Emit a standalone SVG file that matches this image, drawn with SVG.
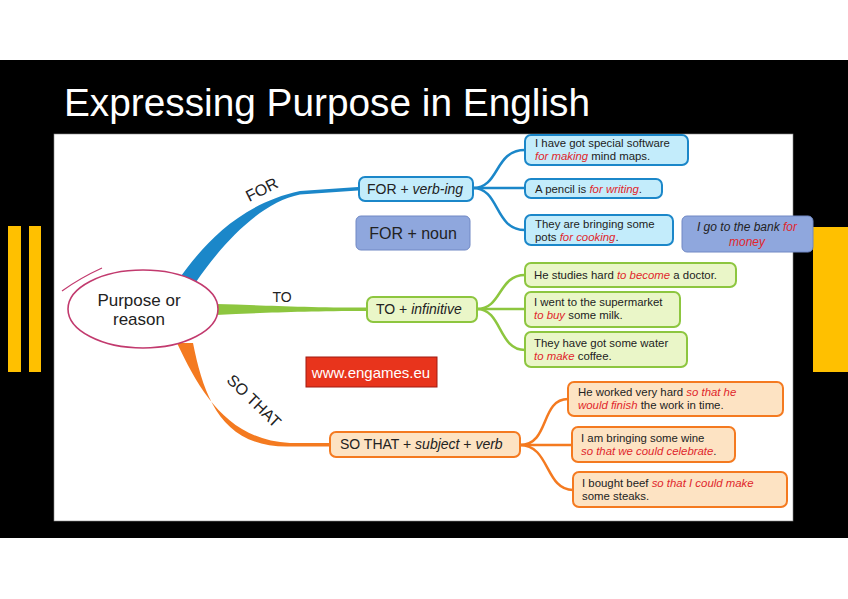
<svg xmlns="http://www.w3.org/2000/svg" width="848" height="599" viewBox="0 0 848 599">
<style>
text{font-family:"Liberation Sans",Arial,sans-serif;fill:#222}
.s{font-size:11.4px}
.h{font-size:14px}
.r{fill:#e0262b;font-style:italic}
.i{font-style:italic}
.bb{fill:#c3ecfb;stroke:#1b87c9;stroke-width:2}
.gb{fill:#eaf6c8;stroke:#8dc63f;stroke-width:2}
.ob{fill:#fde3c3;stroke:#f47a20;stroke-width:2}
.nb{fill:#8fa7dd;stroke:#7088c4;stroke-width:1}
.c{fill:none;stroke-width:2.5}
</style>
<rect width="848" height="599" fill="#fff"/>
<rect x="0" y="60" width="848" height="478" fill="#000"/>
<rect x="8" y="226" width="13" height="146" fill="#ffc000"/>
<rect x="29" y="226" width="12" height="146" fill="#ffc000"/>
<rect x="813" y="227" width="35" height="145" fill="#ffc000"/>
<text x="64" y="116" textLength="526" lengthAdjust="spacingAndGlyphs" style="font-size:38px;fill:#fff">Expressing Purpose in English</text>
<rect x="54" y="134" width="739" height="387" fill="#fff" stroke="#888" stroke-width="0.6"/>

<g id="connectors">
<path d="M178,280 C200,250 235,205 300,191 L358,187 L358,190.5 L300,194.5 C262,202 225,240 196,282 Z" fill="#1b87c9"/>
<path d="M216,304 C260,305 300,307.5 367,307.5 L367,311 C300,311 260,313 216,315 Z" fill="#8dc63f"/>
<path d="M177,343 C200,392 228,440 290,443 L330,443 L330,446.5 L290,446.5 C222,448 204,398 193,343 Z" fill="#f47a20"/>
<g class="c" stroke="#1b87c9">
<path d="M473,188 C500,188 494,150 525,150"/>
<path d="M473,188 L525,188"/>
<path d="M473,188 C500,188 494,230 525,230"/>
</g>
<g class="c" stroke="#8dc63f">
<path d="M477,309 C502,309 498,275 525,275"/>
<path d="M477,309 L525,309"/>
<path d="M477,309 C502,309 498,350 525,350"/>
</g>
<g class="c" stroke="#f47a20">
<path d="M520,445 C550,445 540,399 568,399"/>
<path d="M520,445 L572,445"/>
<path d="M520,445 C550,445 545,490 573,490"/>
</g>
<text x="262" y="195" transform="rotate(-27 262 190)" text-anchor="middle" style="font-size:16px">FOR</text>
<text x="282" y="302" text-anchor="middle" style="font-size:14px">TO</text>
<text x="253" y="406" transform="rotate(44 253 402)" text-anchor="middle" style="font-size:16px">SO THAT</text>
</g>

<g id="center">
<ellipse cx="143" cy="309" rx="75" ry="39" fill="#fff" stroke="#c23a6e" stroke-width="1.6"/>
<path d="M62,291 Q80,278 102,268" fill="none" stroke="#c23a6e" stroke-width="1.2"/>
<text x="139" y="306" text-anchor="middle" style="font-size:17px">Purpose or</text>
<text x="139" y="325" text-anchor="middle" style="font-size:17px">reason</text>
</g>

<g id="for-verb">
<rect class="bb" x="359" y="177" width="114" height="24" rx="6"/>
<text class="h" x="367" y="194">FOR + <tspan class="i">verb-ing</tspan></text>
</g>
<g id="for-1">
<rect class="bb" x="525" y="135" width="163" height="30" rx="6"/>
<text class="s" x="535" y="147">I have got special software</text>
<text class="s" x="535" y="160"><tspan class="r">for making</tspan> mind maps.</text>
</g>
<g id="for-2">
<rect class="bb" x="525" y="179" width="137" height="19" rx="6"/>
<text class="s" x="535" y="193">A pencil is <tspan class="r">for writing</tspan>.</text>
</g>
<g id="for-3">
<rect class="bb" x="525" y="215" width="148" height="30" rx="6"/>
<text class="s" x="535" y="228">They are bringing some</text>
<text class="s" x="535" y="241">pots <tspan class="r">for cooking</tspan>.</text>
</g>
<g id="for-noun">
<rect class="nb" x="356" y="216" width="114" height="34" rx="5"/>
<text x="413" y="239" text-anchor="middle" style="font-size:16px">FOR + noun</text>
</g>
<g id="bank">
<rect class="nb" x="682" y="216" width="131" height="36" rx="5"/>
<text class="i" x="747" y="231" text-anchor="middle" style="font-size:12px">I go to the bank <tspan class="r">for</tspan></text>
<text class="r" x="747" y="246" text-anchor="middle" style="font-size:12px">money</text>
</g>

<g id="to-inf">
<rect class="gb" x="367" y="297" width="110" height="25" rx="6"/>
<text class="h" x="376" y="314">TO + <tspan class="i">infinitive</tspan></text>
</g>
<g id="to-1">
<rect class="gb" x="525" y="263" width="211" height="24" rx="6"/>
<text class="s" x="534" y="279">He studies hard <tspan class="r">to become</tspan> a doctor.</text>
</g>
<g id="to-2">
<rect class="gb" x="525" y="292" width="155" height="35" rx="6"/>
<text class="s" x="534" y="306">I went to the supermarket</text>
<text class="s" x="534" y="319"><tspan class="r">to buy</tspan> some milk.</text>
</g>
<g id="to-3">
<rect class="gb" x="525" y="332" width="162" height="35" rx="6"/>
<text class="s" x="534" y="347">They have got some water</text>
<text class="s" x="534" y="360"><tspan class="r">to make</tspan> coffee.</text>
</g>

<g id="engames">
<rect x="306" y="357" width="131" height="30" fill="#e8341c" stroke="#a01a10" stroke-width="1"/>
<text x="371" y="378" text-anchor="middle" style="font-size:15px;fill:#fff">www.engames.eu</text>
</g>

<g id="so-that">
<rect class="ob" x="330" y="432" width="190" height="25" rx="6"/>
<text class="h" x="340" y="449">SO THAT + <tspan class="i">subject</tspan> + <tspan class="i">verb</tspan></text>
</g>
<g id="so-1">
<rect class="ob" x="568" y="382" width="215" height="34" rx="6"/>
<text class="s" x="578" y="396">He worked very hard <tspan class="r">so that he</tspan></text>
<text class="s" x="578" y="409"><tspan class="r">would finish</tspan> the work in time.</text>
</g>
<g id="so-2">
<rect class="ob" x="572" y="427" width="163" height="35" rx="6"/>
<text class="s" x="581" y="442">I am bringing some wine</text>
<text class="s" x="581" y="455"><tspan class="r">so that we could celebrate</tspan>.</text>
</g>
<g id="so-3">
<rect class="ob" x="573" y="472" width="214" height="35" rx="6"/>
<text class="s" x="582" y="487">I bought beef <tspan class="r">so that I could make</tspan></text>
<text class="s" x="582" y="500">some steaks.</text>
</g>
</svg>
